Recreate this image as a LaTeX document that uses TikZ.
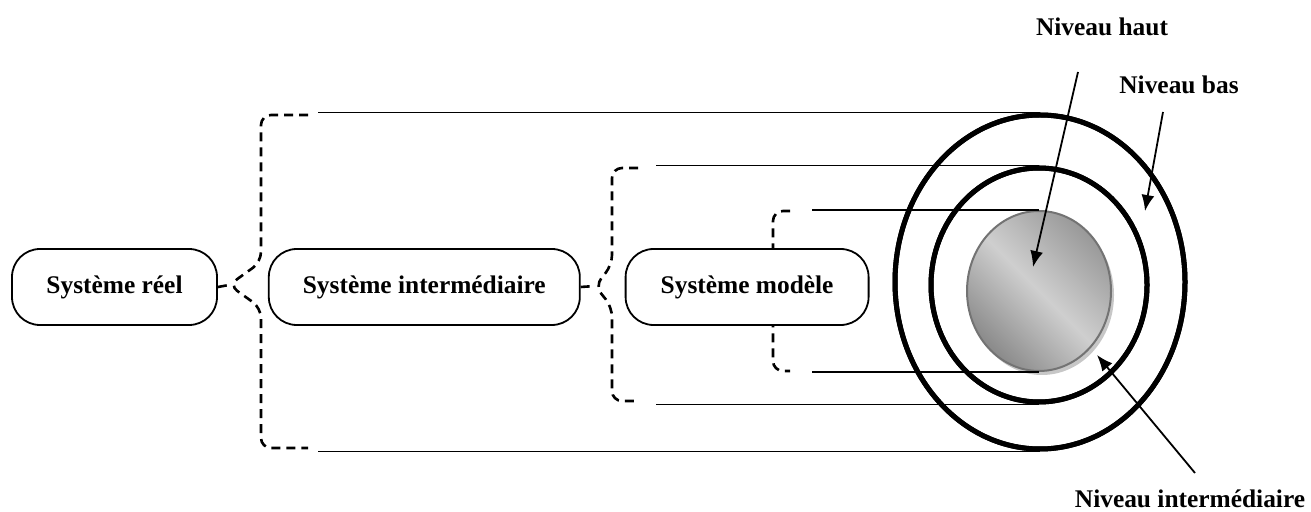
\documentclass[tikz,border=0pt]{standalone}
\usepackage{fontspec}
\setmainfont{Liberation Serif}
\usetikzlibrary{arrows.meta, shapes.geometric, positioning}

\begin{document}
\begin{tikzpicture}[x=0.5pt, y=-0.5pt,
    sysbox/.style={draw, fill=white, line width=0.9pt, rounded corners=14pt,
      minimum height=38pt, inner sep=0pt, font=\fontsize{12.7}{15}\selectfont\bfseries},
    ring/.style={ellipse, draw, line width=2.5pt, inner sep=0pt},
    brace/.style={line width=1.3pt, dash pattern=on 4.5pt off 3pt, rounded corners=5pt},
    link/.style={line width=0.9pt},
    lvl/.style={font=\fontsize{12.7}{15}\selectfont\bfseries},
    lvlarrow/.style={-{Latex[length=8pt,width=6.5pt]}, line width=0.9pt}]
  \useasboundingbox (0,0) rectangle (1311,512);

  % anneaux
  \node[ring, minimum width=145pt, minimum height=167pt] (outer) at (1040,282) {};
  \node[ring, minimum width=108pt, minimum height=117pt] (middle) at (1039,285) {};
  \node[ellipse, fill=black!22, inner sep=0pt, minimum width=72pt, minimum height=80pt] (shadow) at (1042,295) {};
  \node[ellipse, draw=black!55, line width=1pt, inner sep=0pt, minimum width=72pt, minimum height=80pt,
    top color=black!40, bottom color=black!46, middle color=black!19, shading angle=-45] (inner) at (1039,291) {};

  % accolades
  \draw[brace] (308,115) -- (261,115) -- (261,262) -- (229,285) -- (261,308) -- (261,448) -- (308,448);
  \draw[brace] (638,168) -- (612,168) -- (612,265) -- (595,286) -- (612,307) -- (612,401) -- (638,401);
  \draw[brace] (790,211) -- (773,211) -- (773,371) -- (790,371);

  % systemes
  \node[sysbox, minimum width=102.5pt] (reel) at (114.5,287) {Système réel};
  \node[sysbox, minimum width=155.5pt, right=25pt of reel] (inter) {Système intermédiaire};
  \node[sysbox, minimum width=121.5pt, right=22pt of inter] (modele) {Système modèle};

  \coordinate (tip1) at (229,285);
  \coordinate (tip2) at (595,286);
  \draw[brace] (reel.east) -- (tip1);
  \draw[brace] (inter.east) -- (tip2);

  % traits vers les anneaux
  \coordinate (s1) at (318,0);
  \coordinate (s2) at (656,0);
  \coordinate (s3) at (812,0);
  \draw[link] (outer.north -| s1) -- (outer.north);
  \draw[link] (outer.south -| s1) -- (outer.south);
  \draw[link] (middle.north -| s2) -- (middle.north);
  \draw[link] (middle.south -| s2) -- (middle.south);
  \draw[link] (inner.north -| s3) -- (inner.north);
  \draw[link] (inner.south -| s3) -- (inner.south);
  \draw[ring, fill=none] (outer.center) ellipse (72.5pt and 83.5pt);
  \draw[ring, fill=none] (middle.center) ellipse (54pt and 58.5pt);

  % niveaux
  \node[lvl] (haut) at (1102,27) {Niveau haut};
  \node[lvl] (bas) at (1179,85) {Niveau bas};
  \node[lvl] (intlvl) at (1190,499) {Niveau intermédiaire};
  \coordinate (hautTail) at (1078,72);
  \coordinate (hautHead) at (1033,267);
  \coordinate (basTail) at (1163,112);
  \coordinate (basHead) at (1145,211);
  \coordinate (intTail) at (1195,473);
  \coordinate (intHead) at (1097,355);
  \draw[lvlarrow] (hautTail) -- (hautHead);
  \draw[lvlarrow] (basTail) -- (basHead);
  \draw[lvlarrow] (intTail) -- (intHead);
\end{tikzpicture}
\end{document}
